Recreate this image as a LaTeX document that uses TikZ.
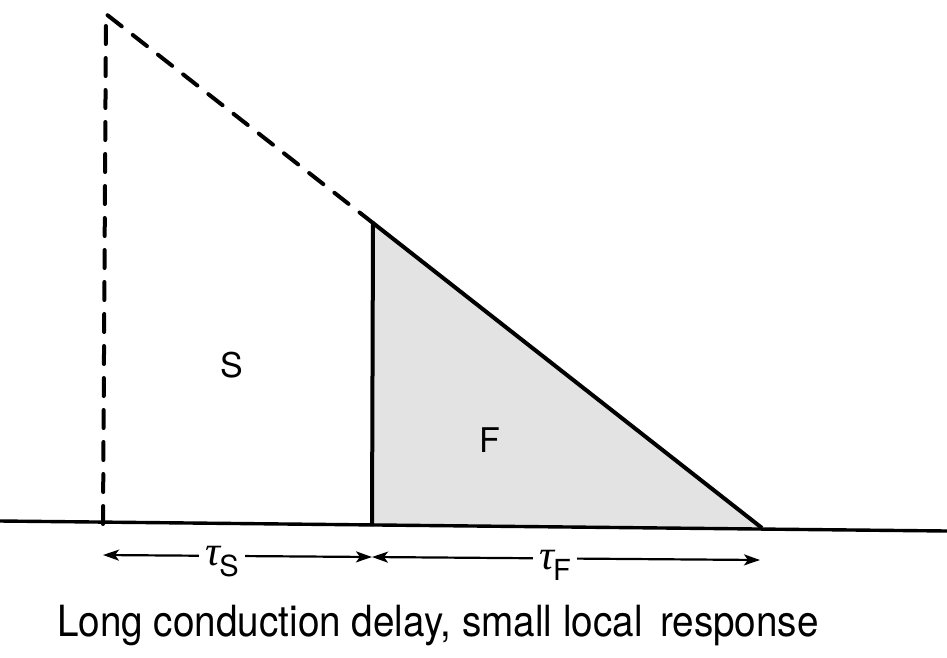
\documentclass[tikz,border=0pt]{standalone}
\usepackage{fontspec}
\setmainfont{TeX Gyre Heros}
\setsansfont{TeX Gyre Heros}
\newfontfamily\taufont{Liberation Serif}
\usetikzlibrary{arrows.meta}
\newcommand{\mytau}[1]{{\fontsize{42}{42}\selectfont\taufont\itshape τ}\kern-1pt\raisebox{-11pt}{\fontsize{29}{29}\selectfont #1}}
\begin{document}
\begin{tikzpicture}[x=1pt,y=-1pt,
  thick line/.style={line width=4pt},
  dashline/.style={line width=4pt,dash pattern=on 18pt off 14pt,line cap=round},
  dimarrow/.style={line width=2.2pt,{Stealth[length=16pt,width=11pt,inset=4pt]}-{Stealth[length=16pt,width=11pt,inset=4pt]}},
  lbl/.style={font=\fontsize{34}{34}\selectfont,inner sep=0pt},
  taulbl/.style={fill=white,inner xsep=6pt,inner ysep=0pt},
  shade/.style={fill=black!11}]
\useasboundingbox (0,0) rectangle (947,657);
\coordinate (top) at (106,14);
\coordinate (sbot) at (103,524);
\coordinate (ftop) at (373,223);
\coordinate (fbot) at (372,526);
\coordinate (fend) at (762,528);
\coordinate (axl) at (0,521);
\coordinate (axr) at (947,531);
\coordinate (al) at (103,555);
\coordinate (am) at (372,557);
\coordinate (ar) at (760,560);
\fill[shade] (ftop) -- (fbot) -- (fend) -- cycle;
\draw[dashline] (sbot) -- (top) -- (ftop);
\draw[thick line,line join=round] (fbot) -- (ftop) -- (fend);
\draw[line width=3.4pt] (axl) -- (axr);
\draw[dimarrow] (al) -- (am);
\draw[dimarrow] (am) -- (ar);
\node[taulbl] (ts) at (222,562) {\mytau{S}};
\node[taulbl] (tf) at (555,565) {\mytau{F}};
\node[lbl] (S) at (232,365) {S};
\node[lbl] (F) at (490,440) {F};
\node[font=\fontsize{43}{43}\selectfont,inner sep=0pt,xscale=0.9] (cap) at (438,625) {Long conduction delay, small local\, response};
\end{tikzpicture}
\end{document}
